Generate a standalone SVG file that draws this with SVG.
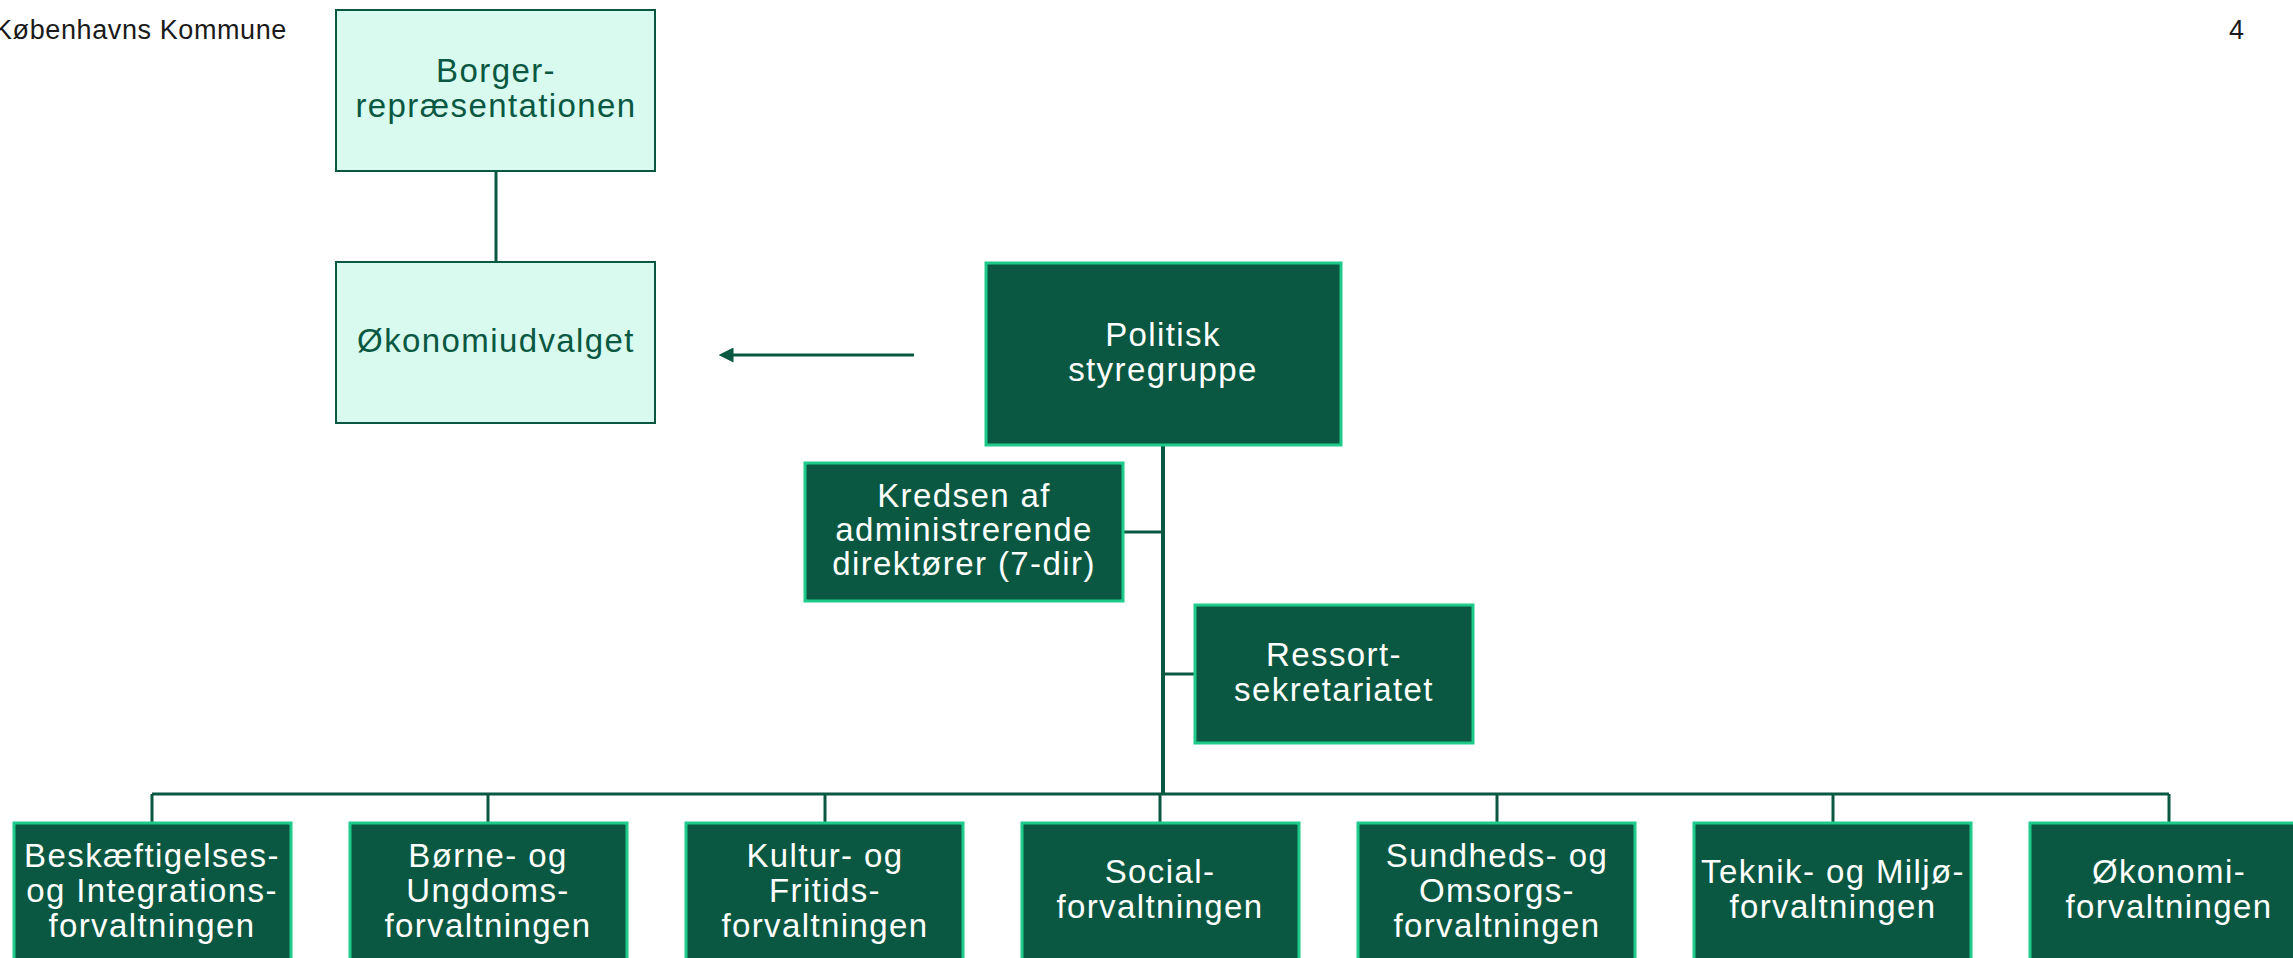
<svg xmlns="http://www.w3.org/2000/svg" width="2293" height="958" viewBox="0 0 2293 958">
<defs>
<style>
.light rect{fill:#d8faef;stroke:#0a5841;stroke-width:2}
.dark rect{fill:#0a5841;stroke:#1ecb8b;stroke-width:3}
text{font-family:"Liberation Sans",Arial,sans-serif;font-size:33px;letter-spacing:1.4px;text-anchor:middle}
.light text{fill:#0a5841}
.dark text{fill:#ffffff}
.hdr{font-size:27px;letter-spacing:0.6px;fill:#1a1a1a;text-anchor:start}
.conn{stroke:#0a5841;stroke-width:3;fill:none}
</style>
<marker id="ah" viewBox="0 0 10 10" refX="1" refY="5" markerWidth="5" markerHeight="5" orient="auto-start-reverse" markerUnits="strokeWidth">
<path d="M0,0 L10,5 L0,10 z" fill="#0a5841"/>
</marker>
</defs>
<rect width="2293" height="958" fill="#ffffff"/>
<text class="hdr" x="-6" y="39">Københavns Kommune</text>
<text class="hdr" x="2229" y="39">4</text>

<g id="connectors">
<line class="conn" x1="496" y1="171" x2="496" y2="262"/>
<line class="conn" x1="914" y1="355" x2="732" y2="355" marker-end="url(#ah)"/>
<line class="conn" x1="1163" y1="446" x2="1163" y2="795" style="stroke-width:4"/>
<line class="conn" x1="1123" y1="532" x2="1163" y2="532"/>
<line class="conn" x1="1163" y1="674" x2="1195" y2="674"/>
<line class="conn" x1="152" y1="794" x2="2169" y2="794"/>
<line class="conn" x1="152" y1="794" x2="152" y2="822"/>
<line class="conn" x1="488" y1="794" x2="488" y2="822"/>
<line class="conn" x1="825" y1="794" x2="825" y2="822"/>
<line class="conn" x1="1160" y1="794" x2="1160" y2="822"/>
<line class="conn" x1="1497" y1="794" x2="1497" y2="822"/>
<line class="conn" x1="1833" y1="794" x2="1833" y2="822"/>
<line class="conn" x1="2169" y1="794" x2="2169" y2="822"/>
</g>

<g id="borger" class="light">
<rect x="336" y="10" width="319" height="161"/>
<text x="496" y="82">Borger-</text>
<text x="496" y="117">repræsentationen</text>
</g>
<g id="okonomiudvalget" class="light">
<rect x="336" y="262" width="319" height="161"/>
<text x="496" y="352">Økonomiudvalget</text>
</g>
<g id="politisk" class="dark">
<rect x="986" y="263" width="355" height="182"/>
<text x="1163" y="346">Politisk</text>
<text x="1163" y="381">styregruppe</text>
</g>
<g id="kredsen" class="dark">
<rect x="805" y="463" width="318" height="138"/>
<text x="964" y="507">Kredsen af</text>
<text x="964" y="541">administrerende</text>
<text x="964" y="575">direktører (7-dir)</text>
</g>
<g id="ressort" class="dark">
<rect x="1195" y="605" width="278" height="138"/>
<text x="1334" y="666">Ressort-</text>
<text x="1334" y="701">sekretariatet</text>
</g>

<g id="bif" class="dark">
<rect x="14" y="823" width="277" height="150"/>
<text x="152" y="867">Beskæftigelses-</text>
<text x="152" y="902">og Integrations-</text>
<text x="152" y="937">forvaltningen</text>
</g>
<g id="buf" class="dark">
<rect x="350" y="823" width="277" height="150"/>
<text x="488" y="867">Børne- og</text>
<text x="488" y="902">Ungdoms-</text>
<text x="488" y="937">forvaltningen</text>
</g>
<g id="kff" class="dark">
<rect x="686" y="823" width="277" height="150"/>
<text x="825" y="867">Kultur- og</text>
<text x="825" y="902">Fritids-</text>
<text x="825" y="937">forvaltningen</text>
</g>
<g id="sof" class="dark">
<rect x="1022" y="823" width="277" height="150"/>
<text x="1160" y="883">Social-</text>
<text x="1160" y="918">forvaltningen</text>
</g>
<g id="suf" class="dark">
<rect x="1358" y="823" width="277" height="150"/>
<text x="1497" y="867">Sundheds- og</text>
<text x="1497" y="902">Omsorgs-</text>
<text x="1497" y="937">forvaltningen</text>
</g>
<g id="tmf" class="dark">
<rect x="1694" y="823" width="277" height="150"/>
<text x="1833" y="883">Teknik- og Miljø-</text>
<text x="1833" y="918">forvaltningen</text>
</g>
<g id="okf" class="dark">
<rect x="2030" y="823" width="277" height="150"/>
<text x="2169" y="883">Økonomi-</text>
<text x="2169" y="918">forvaltningen</text>
</g>
</svg>
